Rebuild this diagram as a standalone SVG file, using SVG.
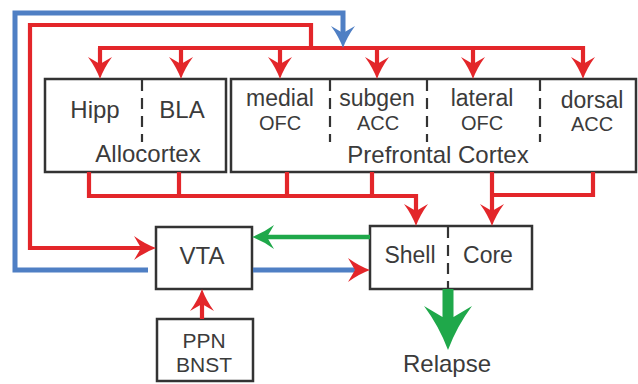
<svg xmlns="http://www.w3.org/2000/svg" width="638" height="384" viewBox="0 0 638 384">
<style>
.box{fill:#fff;stroke:#333;stroke-width:2.5}
.div{stroke:#333;stroke-width:2.2;stroke-dasharray:11,7;fill:none}
.t{font-family:"Liberation Sans",Arial,sans-serif;fill:#3b3b3b;text-anchor:middle}
.big{font-size:24px}
.mid{font-size:23px}
.sm{font-size:20px}
.pp{font-size:21px}
.red{stroke:#e3262a;stroke-width:4.2;fill:none;stroke-linejoin:miter}
.blue{stroke:#4f7fc4;stroke-width:5;fill:none;stroke-linejoin:miter}
.green{stroke:#1fa84a;stroke-width:4.5;fill:none}
</style>
<defs>
<marker id="ahR" markerUnits="userSpaceOnUse" orient="auto" refX="0" refY="0" markerWidth="40" markerHeight="40" overflow="visible">
<path d="M15,0 Q4,-4 -7,-12 L0,0 L-7,12 Q4,4 15,0 Z" fill="#e3262a"/>
</marker>
<marker id="ahB" markerUnits="userSpaceOnUse" orient="auto" refX="0" refY="0" markerWidth="40" markerHeight="40" overflow="visible">
<path d="M15,0 Q4,-4 -7,-12 L0,0 L-7,12 Q4,4 15,0 Z" fill="#4f7fc4"/>
</marker>
<marker id="ahG" markerUnits="userSpaceOnUse" orient="auto" refX="0" refY="0" markerWidth="40" markerHeight="40" overflow="visible">
<path d="M15,0 Q4,-4 -7,-12 L0,0 L-7,12 Q4,4 15,0 Z" fill="#1fa84a"/>
</marker>
</defs>

<g id="allocortex">
<rect class="box" x="45" y="79" width="181" height="93"/>
<line class="div" x1="142" y1="80" x2="142" y2="142"/>
<text class="t big" x="95" y="118">Hipp</text>
<text class="t big" x="182" y="118">BLA</text>
<text class="t big" x="148" y="162">Allocortex</text>
</g>

<g id="prefrontal">
<rect class="box" x="231" y="79" width="405" height="93"/>
<line class="div" x1="330" y1="80" x2="330" y2="142"/>
<line class="div" x1="427" y1="80" x2="427" y2="142"/>
<line class="div" x1="540" y1="80" x2="540" y2="142"/>
<text class="t mid" x="280" y="106">medial</text>
<text class="t sm" x="280" y="130">OFC</text>
<text class="t mid" x="377" y="106">subgen</text>
<text class="t sm" x="378" y="130">ACC</text>
<text class="t mid" x="482" y="106">lateral</text>
<text class="t sm" x="482" y="130">OFC</text>
<text class="t mid" x="592" y="108">dorsal</text>
<text class="t sm" x="592" y="131">ACC</text>
<text class="t big" x="438" y="163">Prefrontal Cortex</text>
</g>

<g id="vta">
<rect class="box" x="156" y="227" width="96" height="62"/>
<text class="t big" x="202" y="264">VTA</text>
</g>

<g id="nac">
<rect class="box" x="370" y="226" width="162" height="63"/>
<line class="div" x1="448" y1="227" x2="448" y2="289"/>
<text class="t mid" x="410" y="263">Shell</text>
<text class="t mid" x="488" y="263">Core</text>
</g>

<g id="ppn">
<rect class="box" x="157" y="319" width="96" height="62"/>
<text class="t pp" x="204" y="348">PPN</text>
<text class="t pp" x="204" y="372">BNST</text>
</g>

<g id="relapse">
<text class="t big" x="447" y="372">Relapse</text>
</g>

<g id="connectors">
<path class="red" d="M311,48 V25 H30 V248 H141" marker-end="url(#ahR)"/>
<path class="red" d="M98,48 H585"/>
<path class="red" d="M100,48 V64" marker-end="url(#ahR)"/>
<path class="red" d="M181,48 V64" marker-end="url(#ahR)"/>
<path class="red" d="M280,48 V64" marker-end="url(#ahR)"/>
<path class="red" d="M377,48 V64" marker-end="url(#ahR)"/>
<path class="red" d="M473,48 V64" marker-end="url(#ahR)"/>
<path class="red" d="M583,46 V64" marker-end="url(#ahR)"/>
<path class="red" d="M89,172 V196 H416 V211" marker-end="url(#ahR)"/>
<path class="red" d="M179,172 V196"/>
<path class="red" d="M287,172 V196"/>
<path class="red" d="M372,172 V196"/>
<path class="red" d="M593,172 V195 H490"/>
<path class="red" d="M492,172 V211" marker-end="url(#ahR)"/>
<path class="red" d="M202,319 V304" marker-end="url(#ahR)"/>
<path class="blue" d="M148,270 H15 V13 H343 V33" marker-end="url(#ahB)"/>
<path class="blue" d="M253,270 H355" marker-end="url(#ahR)"/>
<path class="green" d="M370,237 H267" marker-end="url(#ahG)"/>
<path d="M442.5,289 H453.5 V317 L472,306 Q457,326 448,350 Q439,326 424,306 L442.5,317 Z" fill="#1fa84a"/>
</g>
</svg>
